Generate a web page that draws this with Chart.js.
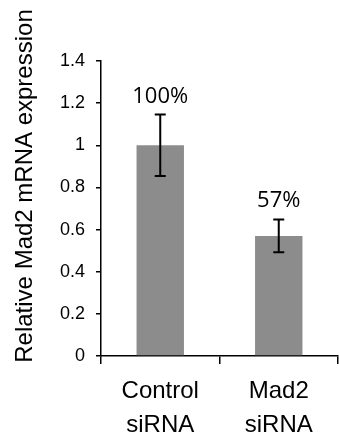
<!DOCTYPE html>
<html>
<head>
<meta charset="utf-8">
<script src="https://cdn.jsdelivr.net/npm/chart.js@4"></script>
<style>
html,body{margin:0;padding:0;background:#fff;}
#wrap{width:339px;height:439px;position:relative;}
</style>
</head>
<body>
<div id="wrap"><canvas id="c" width="339" height="439"></canvas></div>
<script>
const categories = [['Control', 'siRNA'], ['Mad2', 'siRNA']];
const values = [1.0, 0.57];
const errors = [0.146, 0.078];
const valueLabels = ['100%', '57%'];
const yTitle = 'Relative Mad2 mRNA expression';

const errorBarPlugin = {
  id: 'errorBars',
  afterDatasetsDraw(chart) {
    const ctx = chart.ctx;
    const meta = chart.getDatasetMeta(0);
    const y = chart.scales.y;
    ctx.save();
    meta.data.forEach((bar, i) => {
      const v = values[i], e = errors[i];
      const yt = y.getPixelForValue(v + e);
      const yb = y.getPixelForValue(v - e);
      const x = bar.x;
      ctx.strokeStyle = '#000';
      ctx.lineWidth = 2;
      ctx.beginPath();
      ctx.moveTo(x, yt); ctx.lineTo(x, yb);
      ctx.moveTo(x - 5.5, yt); ctx.lineTo(x + 5.5, yt);
      ctx.moveTo(x - 5.5, yb); ctx.lineTo(x + 5.5, yb);
      ctx.stroke();
      ctx.fillStyle = '#000';
      ctx.font = '22px "Open Sans"';
      ctx.textAlign = 'center';
      ctx.textBaseline = 'alphabetic';
      ctx.fillText(valueLabels[i], x, yt - 12);
    });
    // y axis title
    ctx.translate(25, 186);
    ctx.rotate(-Math.PI / 2);
    ctx.font = '24px "Liberation Sans"';
    ctx.textAlign = 'center';
    ctx.textBaseline = 'middle';
    ctx.fillText(yTitle, 0, 0);
    ctx.restore();
  }
};

new Chart(document.getElementById('c'), {
  type: 'bar',
  data: {
    labels: categories,
    datasets: [{
      data: values,
      backgroundColor: '#8c8c8c',
      borderWidth: 0,
      barPercentage: 0.4,
      categoryPercentage: 1.0
    }]
  },
  options: {
    responsive: false,
    animation: false,
    devicePixelRatio: 1,
    layout: { padding: { top: 61, right: 1, left: 0, bottom: 0 } },
    plugins: { legend: { display: false }, tooltip: { enabled: false } },
    scales: {
      x: {
        grid: { display: true, offset: true, drawOnChartArea: false, drawTicks: true, tickLength: 8, color: '#000', lineWidth: 1.5 },
        border: { display: true, color: '#000', width: 1.5 },
        ticks: { color: '#000', font: { family: 'Liberation Sans', size: 24, lineHeight: 1.42 }, padding: 10, maxRotation: 0, autoSkip: false },
        afterFit(scale) { scale.height = 83; }
      },
      y: {
        min: 0, max: 1.4,
        grid: { display: true, drawOnChartArea: false, drawTicks: true, tickLength: 5, color: '#000', lineWidth: 1.5 },
        border: { display: true, color: '#000', width: 1.5 },
        ticks: { stepSize: 0.2, color: '#000', font: { family: 'Liberation Sans', size: 18 }, padding: 11,
          callback: (v) => String(+Number(v).toFixed(1)) },
        afterFit(scale) { scale.width = 101; }
      }
    }
  },
  plugins: [errorBarPlugin]
});
</script>
</body>
</html>
